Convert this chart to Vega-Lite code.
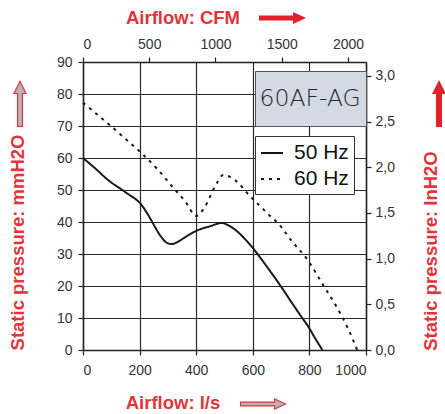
{
  "$schema": "https://vega.github.io/schema/vega-lite/v6.json",
  "width": 283,
  "height": 288,
  "autosize": "none",
  "padding": {"left": 83, "top": 62, "right": 79, "bottom": 64},
  "background": "white",
  "config": {
    "view": {"fill": "#ececec", "stroke": null},
    "font": "Liberation Sans",
    "axis": {
      "labelFont": "Liberation Sans",
      "labelFontSize": 14,
      "labelColor": "#333333",
      "domainColor": "#222222",
      "domainWidth": 1.5,
      "tickColor": "#222222",
      "tickWidth": 1.2,
      "tickSize": 5,
      "gridColor": "#2a2a2a",
      "gridWidth": 1.2,
      "gridOpacity": 1,
      "titleFont": "Liberation Sans",
      "titleFontSize": 18.5,
      "titleFontWeight": "bold",
      "titleColor": "#e2343b"
    }
  },
  "datasets": {
    "curves": [
      {"series": "50 Hz", "model": "60AF-AG", "flow": 0, "p": 60},
      {"series": "50 Hz", "model": "60AF-AG", "flow": 40, "p": 57},
      {"series": "50 Hz", "model": "60AF-AG", "flow": 89, "p": 53.1},
      {"series": "50 Hz", "model": "60AF-AG", "flow": 150, "p": 49.3},
      {"series": "50 Hz", "model": "60AF-AG", "flow": 207, "p": 45.3},
      {"series": "50 Hz", "model": "60AF-AG", "flow": 235, "p": 41.5},
      {"series": "50 Hz", "model": "60AF-AG", "flow": 254, "p": 38.5},
      {"series": "50 Hz", "model": "60AF-AG", "flow": 275, "p": 35.5},
      {"series": "50 Hz", "model": "60AF-AG", "flow": 295, "p": 33.6},
      {"series": "50 Hz", "model": "60AF-AG", "flow": 313, "p": 33.1},
      {"series": "50 Hz", "model": "60AF-AG", "flow": 335, "p": 33.8},
      {"series": "50 Hz", "model": "60AF-AG", "flow": 360, "p": 35.2},
      {"series": "50 Hz", "model": "60AF-AG", "flow": 402, "p": 37.3},
      {"series": "50 Hz", "model": "60AF-AG", "flow": 450, "p": 38.7},
      {"series": "50 Hz", "model": "60AF-AG", "flow": 490, "p": 39.7},
      {"series": "50 Hz", "model": "60AF-AG", "flow": 515, "p": 38.9},
      {"series": "50 Hz", "model": "60AF-AG", "flow": 543, "p": 37.2},
      {"series": "50 Hz", "model": "60AF-AG", "flow": 570, "p": 34.9},
      {"series": "50 Hz", "model": "60AF-AG", "flow": 596, "p": 32.3},
      {"series": "50 Hz", "model": "60AF-AG", "flow": 631, "p": 28.3},
      {"series": "50 Hz", "model": "60AF-AG", "flow": 660, "p": 24.8},
      {"series": "50 Hz", "model": "60AF-AG", "flow": 696, "p": 20.3},
      {"series": "50 Hz", "model": "60AF-AG", "flow": 740, "p": 14.5},
      {"series": "50 Hz", "model": "60AF-AG", "flow": 770, "p": 10.6},
      {"series": "50 Hz", "model": "60AF-AG", "flow": 796, "p": 7.3},
      {"series": "50 Hz", "model": "60AF-AG", "flow": 820, "p": 3.7},
      {"series": "50 Hz", "model": "60AF-AG", "flow": 846, "p": 0},
      {"series": "60 Hz", "model": "60AF-AG", "flow": 0, "p": 77.3},
      {"series": "60 Hz", "model": "60AF-AG", "flow": 50, "p": 73.6},
      {"series": "60 Hz", "model": "60AF-AG", "flow": 101, "p": 69.8},
      {"series": "60 Hz", "model": "60AF-AG", "flow": 150, "p": 66},
      {"series": "60 Hz", "model": "60AF-AG", "flow": 201, "p": 62},
      {"series": "60 Hz", "model": "60AF-AG", "flow": 260, "p": 56.8},
      {"series": "60 Hz", "model": "60AF-AG", "flow": 321, "p": 50.5},
      {"series": "60 Hz", "model": "60AF-AG", "flow": 360, "p": 46.6},
      {"series": "60 Hz", "model": "60AF-AG", "flow": 400, "p": 41.9},
      {"series": "60 Hz", "model": "60AF-AG", "flow": 431, "p": 44.8},
      {"series": "60 Hz", "model": "60AF-AG", "flow": 466, "p": 51},
      {"series": "60 Hz", "model": "60AF-AG", "flow": 496, "p": 54.7},
      {"series": "60 Hz", "model": "60AF-AG", "flow": 537, "p": 53.1},
      {"series": "60 Hz", "model": "60AF-AG", "flow": 590, "p": 48.1},
      {"series": "60 Hz", "model": "60AF-AG", "flow": 630, "p": 44.6},
      {"series": "60 Hz", "model": "60AF-AG", "flow": 661, "p": 41.9},
      {"series": "60 Hz", "model": "60AF-AG", "flow": 684, "p": 40.1},
      {"series": "60 Hz", "model": "60AF-AG", "flow": 740, "p": 33.8},
      {"series": "60 Hz", "model": "60AF-AG", "flow": 790, "p": 28.6},
      {"series": "60 Hz", "model": "60AF-AG", "flow": 852, "p": 19.8},
      {"series": "60 Hz", "model": "60AF-AG", "flow": 896, "p": 13.5},
      {"series": "60 Hz", "model": "60AF-AG", "flow": 935, "p": 7},
      {"series": "60 Hz", "model": "60AF-AG", "flow": 969, "p": 0}
    ],
    "imperial": [
      {"cfm": 0, "inh": 0},
      {"cfm": 2000, "inh": 3}
    ]
  },
  "layer": [
    {
      "data": {"name": "curves"},
      "mark": {"type": "line", "strokeWidth": 2, "interpolate": "monotone"},
      "encoding": {
        "x": {
          "field": "flow", "type": "quantitative",
          "scale": {"domain": [0, 1000], "nice": false},
          "axis": {
            "orient": "bottom", "values": [0, 200, 400, 600, 800, 1000], "format": "d",
            "grid": true, "labelPadding": 8,
            "title": "Airflow: l/s", "titleX": 89.5, "titleY": 52, "titleBaseline": "middle",
            "encode": {"title": {"update": {"stroke": {"value": "#7a7a7a"}, "strokeWidth": {"value": 0.5}}}}
          }
        },
        "y": {
          "field": "p", "type": "quantitative",
          "scale": {"domain": [0, 90], "nice": false},
          "axis": {
            "orient": "left", "values": [0, 10, 20, 30, 40, 50, 60, 70, 80, 90], "format": "d",
            "grid": true, "labelPadding": 6,
            "title": "Static pressure: mmH2O", "titleAngle": 270, "titleX": -66, "titleY": 180, "titleBaseline": "middle",
            "encode": {"title": {"update": {"stroke": {"value": "#7a7a7a"}, "strokeWidth": {"value": 0.5}}}}
          }
        },
        "strokeDash": {
          "field": "series", "type": "nominal",
          "scale": {"domain": ["50 Hz", "60 Hz"], "range": [[1, 0], [3, 5]]},
          "legend": {
            "orient": "none", "legendX": 172, "legendY": 74, "title": null,
            "fillColor": "white", "strokeColor": "#333333", "padding": 5,
            "labelFont": "Liberation Sans", "labelFontSize": 21, "labelColor": "#111111",
            "symbolType": "stroke", "symbolSize": 484, "symbolStrokeWidth": 2,
            "symbolStrokeColor": "#111111", "labelOffset": 10, "rowPadding": 4
          }
        },
        "color": {
          "field": "model", "type": "nominal",
          "scale": {"range": ["#1a1a1a"]},
          "legend": {
            "orient": "none", "legendX": 172, "legendY": 9, "title": null,
            "fillColor": "#d3dae3", "strokeColor": "#555555", "padding": 5,
            "labelFont": "DejaVu Sans", "labelFontSize": 23.5, "labelFontWeight": 200, "labelColor": "#2a2a2a",
            "symbolOpacity": 0, "symbolSize": 0, "labelOffset": -24, "clipHeight": 45
          }
        }
      }
    },
    {
      "data": {"name": "imperial"},
      "mark": {"type": "point", "opacity": 0},
      "encoding": {
        "x": {
          "field": "cfm", "type": "quantitative",
          "scale": {"domain": [0, 2136], "nice": false},
          "axis": {
            "orient": "top", "values": [0, 500, 1000, 1500, 2000], "format": "d", "grid": false, "labelPadding": 6,
            "title": "Airflow: CFM", "titleX": 99.5, "titleY": -45, "titleBaseline": "middle",
            "encode": {"title": {"update": {"stroke": {"value": "#7a7a7a"}, "strokeWidth": {"value": 0.5}}}}
          }
        },
        "y": {
          "field": "inh", "type": "quantitative",
          "scale": {"domain": [0, 3.153], "nice": false},
          "axis": {
            "orient": "right", "values": [0, 0.5, 1, 1.5, 2, 2.5, 3], "grid": false, "labelPadding": 4,
            "labelExpr": "replace(format(datum.value, '.1f'), '.', ',')",
            "title": "Static pressure: InH2O", "titleAngle": 270, "titleX": 64, "titleY": 188.5, "titleBaseline": "middle",
            "encode": {"title": {"update": {"stroke": {"value": "#7a7a7a"}, "strokeWidth": {"value": 0.5}}}}
          }
        }
      }
    },
    {
      "data": {"values": [{"arrow": "CFM"}]},
      "mark": {"type": "point", "filled": true, "opacity": 0, "fill": "#e2222b"},
      "encoding": {
        "shape": {
          "field": "arrow", "type": "nominal",
          "scale": {"range": ["M-1,-0.106L0.45,-0.106L0.45,-0.255L1,0L0.45,0.255L0.45,0.106L-1,0.106Z"]},
          "legend": {
            "orient": "none", "legendX": 175, "legendY": -68.5, "title": null, "labelExpr": "''",
            "padding": 0, "labelOffset": 0, "symbolSize": 2209, "symbolOpacity": 1, "symbolFillColor": "#e2222b"
          }
        }
      }
    },
    {
      "data": {"values": [{"arrow": "l/s"}]},
      "mark": {"type": "point", "filled": true, "opacity": 0, "fill": "#e2343b"},
      "encoding": {
        "shape": {
          "field": "arrow", "type": "nominal",
          "scale": {"range": ["M-1,-0.106L0.45,-0.106L0.45,-0.255L1,0L0.45,0.255L0.45,0.106L-1,0.106Z"]},
          "legend": {
            "orient": "none", "legendX": 156, "legendY": 317.5, "title": null, "labelExpr": "''",
            "padding": 0, "labelOffset": 0, "symbolSize": 2209, "symbolOpacity": 1, "symbolFillColor": "#e2343b"
          }
        }
      }
    },
    {
      "data": {"values": [{"arrow": "mmH2O"}]},
      "mark": {"type": "point", "filled": true, "opacity": 0, "fill": "#e2343b"},
      "encoding": {
        "shape": {
          "field": "arrow", "type": "nominal",
          "scale": {"range": ["M-0.13,1L-0.13,-0.4L-0.3,-0.4L0,-1L0.3,-0.4L0.13,-0.4L0.13,1Z"]},
          "legend": {
            "orient": "none", "legendX": -87.5, "legendY": 17, "title": null, "labelExpr": "''",
            "padding": 0, "labelOffset": 0, "symbolSize": 2209, "symbolOpacity": 1, "symbolFillColor": "#e2343b"
          }
        }
      }
    },
    {
      "data": {"values": [{"arrow": "InH2O"}]},
      "mark": {"type": "point", "filled": true, "opacity": 0, "fill": "#e2222b"},
      "encoding": {
        "shape": {
          "field": "arrow", "type": "nominal",
          "scale": {"range": ["M-0.13,1L-0.13,-0.4L-0.3,-0.4L0,-1L0.3,-0.4L0.13,-0.4L0.13,1Z"]},
          "legend": {
            "orient": "none", "legendX": 331.5, "legendY": 17, "title": null, "labelExpr": "''",
            "padding": 0, "labelOffset": 0, "symbolSize": 2209, "symbolOpacity": 1, "symbolFillColor": "#e2222b"
          }
        }
      }
    },
    {
      "data": {"values": [{"arrow": "l/s inner"}]},
      "mark": {"type": "point", "filled": true, "opacity": 0, "fill": "#b5b5b5"},
      "encoding": {
        "shape": {
          "field": "arrow", "type": "nominal",
          "scale": {"range": ["M-0.95,-0.056L0.5,-0.056L0.5,-0.177L0.881,0L0.5,0.177L0.5,0.056L-0.95,0.056Z"]},
          "legend": {
            "orient": "none", "legendX": 156, "legendY": 317.5, "title": null, "labelExpr": "''",
            "padding": 0, "labelOffset": 0, "symbolSize": 2209, "symbolOpacity": 1, "symbolFillColor": "#b5b5b5"
          }
        }
      }
    },
    {
      "data": {"values": [{"arrow": "mmH2O inner"}]},
      "mark": {"type": "point", "filled": true, "opacity": 0, "fill": "#b5b5b5"},
      "encoding": {
        "shape": {
          "field": "arrow", "type": "nominal",
          "scale": {"range": ["M-0.08,0.95L-0.08,-0.45L-0.219,-0.45L0,-0.888L0.219,-0.45L0.08,-0.45L0.08,0.95Z"]},
          "legend": {
            "orient": "none", "legendX": -87.5, "legendY": 17, "title": null, "labelExpr": "''",
            "padding": 0, "labelOffset": 0, "symbolSize": 2209, "symbolOpacity": 1, "symbolFillColor": "#b5b5b5"
          }
        }
      }
    }
  ],
  "resolve": {
    "scale": {"x": "independent", "y": "independent", "shape": "independent"},
    "legend": {"shape": "independent"}
  }
}
